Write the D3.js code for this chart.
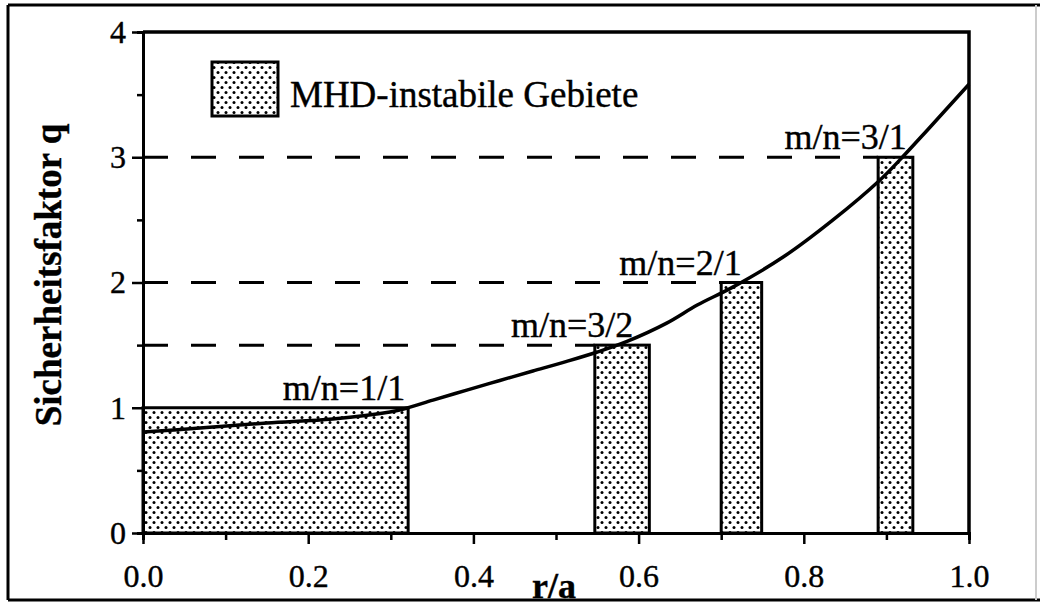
<!DOCTYPE html>
<html>
<head>
<meta charset="utf-8">
<script src="https://cdn.jsdelivr.net/npm/d3@7"></script>
<style>
  body { margin: 0; background: #fff; }
  svg { display: block; }
  text { font-family: "Liberation Serif", "Times New Roman", serif; fill: #000; stroke: #000; stroke-width: 0.4px; }
</style>
</head>
<body>
<svg id="chart" width="1046" height="607"></svg>
<script>
// q profile
var rPts = [0, 0.069, 0.15, 0.23, 0.299, 0.32, 0.351, 0.392, 0.432, 0.472, 0.513, 0.55, 0.586, 0.634, 0.671, 0.714, 0.775, 0.835, 0.892, 0.916, 0.95, 1.0];
var qPts = [0.806, 0.838, 0.878, 0.91, 0.966, 0.998, 1.061, 1.141, 1.218, 1.293, 1.37, 1.445, 1.53, 1.676, 1.82, 1.963, 2.203, 2.498, 2.817, 2.977, 3.22, 3.583];

// MHD unstable regions
var regionStart = [0, 0.547, 0.700, 0.890];
var regionEnd = [0.321, 0.613, 0.749, 0.932];
var regionTop = [1, 1.5, 2, 3];
var modeLabels = ["m/n=1/1", "m/n=3/2", "m/n=2/1", "m/n=3/1"];

var xTicks = [0, 0.2, 0.4, 0.6, 0.8, 1.0];
var xMinor = [0.1, 0.3, 0.5, 0.7, 0.9];
var yTicks = [0, 1, 2, 3, 4];
var yMinor = [0.5, 1.5, 2.5, 3.5];

var svg = d3.select("#chart");

var x = d3.scaleLinear().domain([0, 1]).range([143, 969]);
var y = d3.scaleLinear().domain([0, 4]).range([533, 32]);

// stipple pattern
var pat = svg.append("defs").append("pattern")
  .attr("id", "dots")
  .attr("patternUnits", "userSpaceOnUse")
  .attr("width", 8).attr("height", 10);
pat.append("rect").attr("width", 8).attr("height", 10).attr("fill", "#fff");
pat.append("circle").attr("cx", 2).attr("cy", 2.5).attr("r", 1.5).attr("fill", "#000");
pat.append("circle").attr("cx", 6).attr("cy", 7.5).attr("r", 1.5).attr("fill", "#000");

// outer frame of the scan
svg.append("line").attr("x1", 8).attr("y1", 5).attr("x2", 1040).attr("y2", 5).attr("stroke", "#000").attr("stroke-width", 3);
svg.append("line").attr("x1", 8).attr("y1", 5).attr("x2", 8).attr("y2", 600).attr("stroke", "#000").attr("stroke-width", 3);
svg.append("line").attr("x1", 8).attr("y1", 600).attr("x2", 1040).attr("y2", 600).attr("stroke", "#000").attr("stroke-width", 3);
svg.append("line").attr("x1", 1036).attr("y1", 5).attr("x2", 1036).attr("y2", 600).attr("stroke", "#ccc").attr("stroke-width", 2);

var regions = regionStart.map(function(d, i) {
  return { x0: d, x1: regionEnd[i], q: regionTop[i], label: modeLabels[i] };
});

// dashed resonance lines
svg.append("g").selectAll("line")
  .data(regions)
  .enter().append("line")
  .attr("x1", x(0))
  .attr("x2", function(d) { return x(d.x0); })
  .attr("y1", function(d) { return y(d.q); })
  .attr("y2", function(d) { return y(d.q); })
  .attr("stroke", "#000")
  .attr("stroke-width", 3)
  .attr("stroke-dasharray", "25,23");

// unstable regions
svg.append("g").selectAll("rect")
  .data(regions)
  .enter().append("rect")
  .attr("x", function(d) { return x(d.x0); })
  .attr("y", function(d) { return y(d.q); })
  .attr("width", function(d) { return x(d.x1) - x(d.x0); })
  .attr("height", function(d) { return y(0) - y(d.q); })
  .attr("fill", "url(#dots)")
  .attr("stroke", "#000")
  .attr("stroke-width", 3);

// q curve
var line = d3.line()
  .x(function(d) { return x(d[0]); })
  .y(function(d) { return y(d[1]); })
  .curve(d3.curveCatmullRom.alpha(0.5));

svg.append("path")
  .datum(rPts.map(function(r, i) { return [r, qPts[i]]; }))
  .attr("d", line)
  .attr("fill", "none")
  .attr("stroke", "#000")
  .attr("stroke-width", 3.5);

// mode labels, right end offset from each region
var labelShift = [3, 16, 20, 6];
svg.append("g").selectAll("text")
  .data(regions)
  .enter().append("text")
  .attr("x", function(d, i) { return x(d.x1) - labelShift[i]; })
  .attr("y", function(d) { return y(d.q) - 8; })
  .attr("text-anchor", "end")
  .attr("font-size", 36)
  .text(function(d) { return d.label; });

// axes
function styleAxis(g) {
  g.select(".domain").attr("stroke-width", 3);
  g.selectAll(".tick line").attr("stroke-width", 2.5);
  g.selectAll("text").attr("font-size", 32);
}

svg.append("g")
  .attr("transform", "translate(0," + y(0) + ")")
  .call(d3.axisBottom(x).tickValues(xMinor).tickSize(7).tickFormat(""))
  .call(styleAxis);
svg.append("g")
  .attr("transform", "translate(0," + y(0) + ")")
  .call(d3.axisBottom(x).tickValues(xTicks).tickSize(11).tickSizeOuter(0).tickPadding(20).tickFormat(d3.format(".1f")))
  .call(styleAxis);

svg.append("g")
  .attr("transform", "translate(" + x(0) + ",0)")
  .call(d3.axisLeft(y).tickValues(yMinor).tickSize(6).tickFormat(""))
  .call(styleAxis);
svg.append("g")
  .attr("transform", "translate(" + x(0) + ",0)")
  .call(d3.axisLeft(y).tickValues(yTicks).tickSize(11).tickSizeOuter(0).tickPadding(6).tickFormat(d3.format("d")))
  .call(styleAxis);

// top and right border of the plot
svg.append("path")
  .attr("d", "M" + x(0) + "," + y(4) + "H" + x(1) + "V" + y(0))
  .attr("fill", "none")
  .attr("stroke", "#000")
  .attr("stroke-width", 3.5);

// axis titles
svg.append("text")
  .attr("transform", "translate(61," + 275 + ") rotate(-90)")
  .attr("text-anchor", "middle")
  .attr("font-size", 37)
  .attr("font-weight", "bold")
  .text("Sicherheitsfaktor q");

svg.append("text")
  .attr("x", 554)
  .attr("y", 598)
  .attr("text-anchor", "middle")
  .attr("font-size", 36)
  .attr("font-weight", "bold")
  .text("r/a");

// legend
svg.append("rect")
  .attr("x", 212).attr("y", 62)
  .attr("width", 66).attr("height", 54)
  .attr("fill", "url(#dots)")
  .attr("stroke", "#000")
  .attr("stroke-width", 3);
svg.append("text")
  .attr("x", 290).attr("y", 107)
  .attr("font-size", 37)
  .text("MHD-instabile Gebiete");
</script>
</body>
</html>
